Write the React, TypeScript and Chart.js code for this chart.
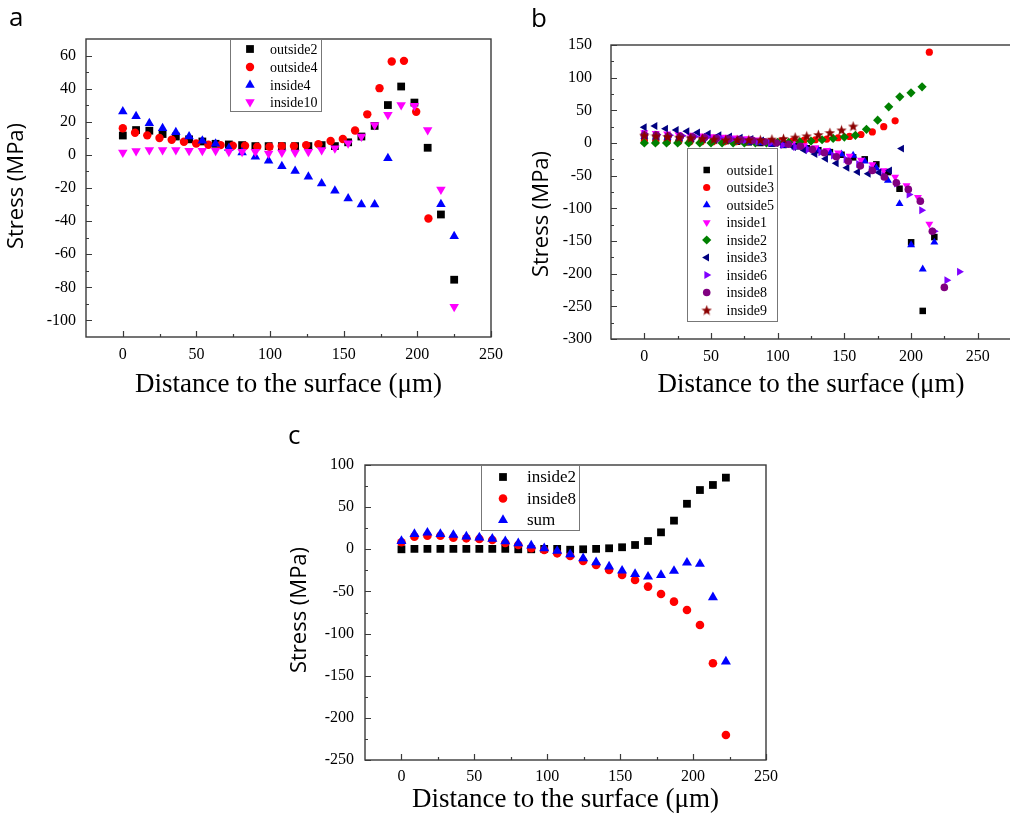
import React, { useEffect, useRef } from "react";
import { Chart, registerables } from "chart.js";
import { drawPoint } from "chart.js/helpers";

Chart.register(...registerables);

// ---------------- Panel a data ----------------
const xA9 = [0, 9, 18, 27, 36, 45, 54, 63, 72, 81, 90, 99, 108, 117, 126, 135, 144, 153, 162, 171, 180, 189, 198, 207, 216, 225];
const xA83 = [0, 8.3, 16.6, 24.9, 33.2, 41.5, 49.8, 58.1, 66.4, 74.7, 83, 91.3, 99.6, 107.9, 116.2, 124.5, 132.8, 141.1, 149.4, 157.7, 166, 174.3, 182.6, 190.9, 199.2, 207.5];
const outside2A = [11.7, 15.0, 14.6, 12.6, 11.1, 9.4, 8.1, 6.7, 6.3, 5.9, 5.3, 5.3, 5.3, 5.3, 5.3, 5.9, 5.3, 7.6, 11.1, 17.5, 30.1, 41.3, 31.6, 4.3, -36.0, -75.4];
const outside4A = [16.1, 13.4, 11.8, 10.2, 9.1, 7.9, 6.9, 6.1, 5.9, 5.5, 5.5, 4.9, 4.9, 5.3, 5.3, 5.9, 6.5, 8.4, 9.6, 14.7, 24.5, 40.3, 56.4, 56.8, 26.1, -38.4];
const inside4A = [26.2, 23.3, 19.1, 16.1, 13.7, 11.1, 8.5, 6.8, 4.0, 1.5, -1.1, -3.6, -6.8, -9.8, -13.2, -17.3, -21.7, -26.3, -30.0, -30.0, -2.1, null, null, null, -29.8, -49.2];
const inside10A = [1.5, 2.3, 2.9, 2.9, 2.9, 2.5, 2.5, 2.5, 1.9, 1.9, 1.9, 0.9, 1.5, 1.5, 1.9, 2.9, 4.0, 7.1, 11.1, 18.1, 24.2, 30.2, 29.7, 15.1, -20.9, -91.8];
const xTicksA = [0, 50, 100, 150, 200, 250];
const xMinorA = [25, 75, 125, 175, 225];
const yTicksA = [-100, -80, -60, -40, -20, 0, 20, 40, 60];
const yMinorA = [-90, -70, -50, -30, -10, 10, 30, 50];

// ---------------- Panel b data ----------------
const xB87 = [0, 8.7, 17.4, 26.1, 34.8, 43.5, 52.2, 60.9, 69.6, 78.3, 87, 95.7, 104.4, 113.1, 121.8, 130.5, 139.2, 147.9, 156.6, 165.3, 174, 182.7, 191.4, 200.1, 208.8, 217.5];
const xB855 = [0, 8.55, 17.1, 25.65, 34.2, 42.75, 51.3, 59.85, 68.4, 76.95, 85.5, 94.05, 102.6, 111.15, 119.7, 128.25, 136.8, 145.35, 153.9, 162.45, 171, 179.55, 188.1, 196.65, 205.2, 213.75];
const xB833 = [0, 8.33, 16.66, 25, 33.3, 41.6, 50, 58.3, 66.6, 75, 83.3, 91.6, 100, 108.3, 116.6, 125, 133.3, 141.6, 150, 158.3, 166.6, 175, 183.3, 191.6, 200, 208.3];
const xB8 = [0, 8, 16, 24, 32, 40, 48, 56, 64, 72, 80, 88, 96, 104, 112, 120, 128, 136, 144, 152, 160, 168, 176, 184, 193];
const xB945 = [0, 9.45, 18.9, 28.35, 37.8, 47.25, 56.7, 66.15, 75.6, 85.05, 94.5, 103.95, 113.4, 122.85, 132.3, 141.75, 151.2, 160.65, 170.1, 179.55, 189, 198.45, 207.9, 217.35, 226.8, 236.25];
const xB9 = [0, 9, 18, 27, 36, 45, 54, 63, 72, 81, 90, 99, 108, 117, 126, 135, 144, 153, 162, 171, 180, 189, 198, 207, 216, 225];
const xBstar = [0, 8.7, 17.4, 26.1, 34.8, 43.5, 52.2, 60.9, 69.6, 78.3, 87, 95.7, 104.4, 113.1, 121.8, 130.5, 139.2, 147.9, 156.6];
const outside1B = [8, 8, 7, 6, 6, 5, 4, 3, 2, 1, 0, -1, -3, -5, -8, -11, -14, -18, -22, -25, -32.7, -44.5, -70, -152, -257, -144];
const outside3B = [2, 2, 2, 2, 2, 2, 2, 2, 2, 2, 2, 2, 3, 3, 4, 5, 6, 8, 10, 13, 17, 25, 34, null, null, 139];
const outside5B = [10, 9, 8, 7, 6, 5, 4, 3, 2, 1, 0, -2, -4, -6, -8, -11, -14, -17, -19, -28, -38.4, -57.3, -93, -156, -193, -152];
const inside1B = [16, 15, 14, 13, 12, 11, 10, 9, 8, 7, 5, 3, 1, -1, -4, -7, -11, -15, -20, -26, -33, -42, -52, -65, -83, -124];
const inside2B = [0, 0, 0, 0, 0, 0, 0, 0, 0, 0, 0, 0, 1, 1, 2, 3, 5, 7, 9, 11.8, 21, 35, 55.3, 70.7, 76.8, 86];
const inside3B = [24, 26, 22, 20, 18, 16, 14, 12, 10, 8, 6, 4, 1, -2, -6, -11, -17, -24, -31, -38, -44.5, -47, -45, -42, -8.6];
const inside6B = [14, 13, 12, 11, 10, 9, 8, 6, 4, 2, 0, -3, -6, -10, -14, -19, -25, -32, -40, -50, -62, -79, -103, -135, -210, -197];
const inside8B = [12, 12, 11, 10, 9, 8, 7, 6, 5, 4, 2, 0, -2, -5, -10, -15, -21, -28, -35, -42, -52, -61, -71, -89, -135, -221];
const inside9B = [12, 11, 10, 9, 8, 7, 6, 5, 5, 5, 5, 6, 7, 9, 11, 13, 16, 20, 26];
const xTicksB = [0, 50, 100, 150, 200, 250];
const xMinorB = [25, 75, 125, 175, 225];
const yTicksB = [-300, -250, -200, -150, -100, -50, 0, 50, 100, 150];
const yMinorB = [-275, -225, -175, -125, -75, -25, 25, 75, 125];

// ---------------- Panel c data ----------------
const xC = [0, 8.9, 17.8, 26.7, 35.6, 44.5, 53.4, 62.3, 71.2, 80.1, 89, 97.9, 106.8, 115.7, 124.6, 133.5, 142.4, 151.3, 160.2, 169.1, 178, 186.9, 195.8, 204.7, 213.6, 222.5];
const inside2C = [0, 0.5, 0.5, 0.5, 0.5, 0.5, 0.5, 0.5, 0.5, 0, 0, 0.5, 0.5, -0.5, 0, 0.5, 1.2, 2.4, 5.1, 9.8, 20.1, 34, 54, 70.3, 76.3, 85];
const inside8C = [8.3, 15, 16.2, 16, 13.8, 13, 12.3, 11, 7.5, 5.1, 1.2, -0.8, -4.8, -7.9, -13.9, -18.6, -24.6, -30.5, -36.4, -44.3, -53, -62.1, -72, -89.8, -135.3, -220.3];
const sumC = [9.8, 18.1, 19.7, 18.1, 17, 15, 13.8, 12.3, 9.5, 7.1, 4.3, 1.2, -2, -6, -10.7, -15.5, -20.6, -25.4, -29.3, -32.5, -30.5, -25.7, -15.9, -17.4, -57, -133.3];
const xTicksC = [0, 50, 100, 150, 200, 250];
const xMinorC = [25, 75, 125, 175, 225];
const yTicksC = [-250, -200, -150, -100, -50, 0, 50, 100];
const yMinorC = [-225, -175, -125, -75, -25, 25, 75];

const SERIF = "'Liberation Serif', 'Times New Roman', serif";
const SANS = "'Open Sans', 'Noto Sans', sans-serif";

let starCache: HTMLCanvasElement | null = null;
function starImage(): HTMLCanvasElement {
  if (starCache) return starCache;
  const size = 11;
  const c = document.createElement("canvas");
  c.width = size;
  c.height = size;
  const ctx = c.getContext("2d")!;
  ctx.fillStyle = "#8b0000";
  ctx.beginPath();
  for (let i = 0; i < 10; i++) {
    const r = i % 2 === 0 ? size / 2 : (size / 2) * 0.42;
    const a = -Math.PI / 2 + (i * Math.PI) / 5;
    ctx.lineTo(size / 2 + r * Math.cos(a), size / 2 + 0.6 + r * Math.sin(a));
  }
  ctx.closePath();
  ctx.fill();
  starCache = c;
  return c;
}

type Series = { label: string; x: number[]; y: (number | null)[]; style: any; color: string; r: number; rot?: number };

type PanelCfg = {
  left: number; top: number; w: number; h: number;
  pad: { left: number; right: number; top: number; bottom: number };
  yW: number; xH: number;
  xMin: number; xMax: number; yMin: number; yMax: number;
  xTicks: number[]; xMinor: number[]; yTicks: number[]; yMinor: number[];
  xPad: number; yPad: number;
  series: Series[];
  legend: { box: number[]; rowY: number[]; markerX: number; textX: number; size: number };
  yTitle: { x: number; y: number };
};

const framePlugin = {
  id: "frame",
  afterDatasetsDraw(chart: any, _a: any, opts: any) {
    const { ctx, chartArea: a } = chart;
    const xs = chart.scales.x;
    const ys = chart.scales.y;
    ctx.save();
    ctx.strokeStyle = "#3a3a3a";
    ctx.lineWidth = 1.4;
    ctx.strokeRect(a.left, a.top, a.right - a.left, a.bottom - a.top);
    ctx.lineWidth = 1.2;
    ctx.beginPath();
    for (const v of opts.xMajor) {
      const p = Math.round(xs.getPixelForValue(v)) + 0.5;
      ctx.moveTo(p, a.bottom);
      ctx.lineTo(p, a.bottom - 6);
    }
    for (const v of opts.xMinor) {
      const p = Math.round(xs.getPixelForValue(v)) + 0.5;
      ctx.moveTo(p, a.bottom);
      ctx.lineTo(p, a.bottom - 3);
    }
    for (const v of opts.yMajor) {
      const p = Math.round(ys.getPixelForValue(v)) + 0.5;
      ctx.moveTo(a.left, p);
      ctx.lineTo(a.left + 6, p);
    }
    for (const v of opts.yMinor) {
      const p = Math.round(ys.getPixelForValue(v)) + 0.5;
      ctx.moveTo(a.left, p);
      ctx.lineTo(a.left + 3, p);
    }
    ctx.stroke();
    ctx.restore();
  },
};

const legendPlugin = {
  id: "boxLegend",
  afterDraw(chart: any, _a: any, opts: any) {
    const ctx = chart.ctx;
    const [bx, by, bw, bh] = opts.box;
    ctx.save();
    ctx.fillStyle = "#ffffff";
    ctx.fillRect(bx, by, bw, bh);
    ctx.strokeStyle = "#777777";
    ctx.lineWidth = 1;
    ctx.strokeRect(bx + 0.5, by + 0.5, bw, bh);
    chart.data.datasets.forEach((ds: any, i: number) => {
      const y = opts.rowY[i];
      ctx.fillStyle = ds.backgroundColor;
      ctx.strokeStyle = ds.backgroundColor;
      drawPoint(ctx, { pointStyle: ds.pointStyle, rotation: ds.pointRotation || 0, radius: ds.pointRadius, borderWidth: 0 } as any, opts.markerX, y);
      ctx.fillStyle = "#000";
      ctx.font = `${opts.size}px ${SERIF}`;
      ctx.textBaseline = "middle";
      ctx.textAlign = "left";
      ctx.fillText(ds.label, opts.textX, y + 1);
    });
    ctx.restore();
  },
};

const yTitlePlugin = {
  id: "yTitle",
  afterDraw(chart: any, _a: any, opts: any) {
    const ctx = chart.ctx;
    ctx.save();
    ctx.translate(opts.x, opts.y);
    ctx.rotate(-Math.PI / 2);
    ctx.fillStyle = "#000";
    ctx.font = `22px ${SANS}`;
    ctx.textAlign = "center";
    ctx.textBaseline = "middle";
    ctx.fillText("Stress (MPa)", 0, 0);
    ctx.restore();
  },
};

function buildConfig(cfg: PanelCfg): any {
  const n = cfg.series.length;
  return {
    type: "scatter",
    data: {
      datasets: cfg.series.map((s, i) => ({
        label: s.label,
        data: s.x.map((x, j) => ({ x, y: s.y[j] })).filter((p) => p.y !== null && p.y !== undefined),
        pointStyle: s.style,
        pointRotation: s.rot || 0,
        pointRadius: s.r,
        pointHoverRadius: s.r,
        backgroundColor: s.color,
        borderColor: s.color,
        pointBorderWidth: 0,
        borderWidth: 0,
        showLine: false,
        order: n - i,
      })),
    },
    options: {
      responsive: false,
      animation: false,
      events: [],
      layout: { padding: cfg.pad },
      plugins: {
        legend: { display: false },
        tooltip: { enabled: false },
        frame: { xMajor: cfg.xTicks, xMinor: cfg.xMinor, yMajor: cfg.yTicks, yMinor: cfg.yMinor },
        boxLegend: cfg.legend,
        yTitle: cfg.yTitle,
      },
      scales: {
        x: {
          type: "linear",
          min: cfg.xMin,
          max: cfg.xMax,
          grid: { display: false, drawTicks: false },
          border: { display: false },
          afterBuildTicks: (s: any) => {
            s.ticks = cfg.xTicks.map((v) => ({ value: v }));
          },
          afterFit: (s: any) => {
            s.height = cfg.xH;
            s.paddingLeft = 0;
            s.paddingRight = 0;
          },
          ticks: { autoSkip: false, maxRotation: 0, minRotation: 0, padding: cfg.xPad, color: "#000", font: { family: SERIF, size: 16 } },
          title: {
            display: true,
            text: "Distance to the surface (μm)",
            color: "#000",
            font: { family: SERIF, size: 27 },
            padding: { top: 0, bottom: 0 },
          },
        },
        y: {
          type: "linear",
          min: cfg.yMin,
          max: cfg.yMax,
          grid: { display: false, drawTicks: false },
          border: { display: false },
          afterBuildTicks: (s: any) => {
            s.ticks = cfg.yTicks.map((v) => ({ value: v }));
          },
          afterFit: (s: any) => {
            s.width = cfg.yW;
            s.paddingTop = 0;
            s.paddingBottom = 0;
          },
          ticks: { autoSkip: false, padding: cfg.yPad, color: "#000", font: { family: SERIF, size: 16 } },
        },
      },
    },
    plugins: [framePlugin, legendPlugin, yTitlePlugin],
  };
}

function Panel({ cfg }: { cfg: PanelCfg }) {
  const ref = useRef<HTMLCanvasElement | null>(null);
  useEffect(() => {
    const chart = new Chart(ref.current as HTMLCanvasElement, buildConfig(cfg));
    return () => chart.destroy();
  }, [cfg]);
  return (
    <canvas
      ref={ref}
      width={cfg.w}
      height={cfg.h}
      style={{ position: "absolute", left: cfg.left, top: cfg.top, width: cfg.w, height: cfg.h }}
    />
  );
}

const panelA: PanelCfg = {
  left: 0, top: 0, w: 515, h: 401,
  pad: { left: 4, right: 24, top: 39, bottom: 0 },
  yW: 82, xH: 64,
  xMin: -25, xMax: 250, yMin: -110, yMax: 70,
  xTicks: xTicksA, xMinor: xMinorA, yTicks: yTicksA, yMinor: yMinorA,
  xPad: 8, yPad: 10,
  series: [
    { label: "outside2", x: xA9, y: outside2A, style: "rect", color: "#000000", r: 5.5 },
    { label: "outside4", x: xA83, y: outside4A, style: "circle", color: "#ff0000", r: 4.2 },
    { label: "inside4", x: xA9, y: inside4A, style: "triangle", color: "#0000ff", r: 5.5 },
    { label: "inside10", x: xA9, y: inside10A, style: "triangle", color: "#ff00ff", r: 5.5, rot: 180 },
  ],
  legend: { box: [230, 39, 91, 72], rowY: [49, 67, 85, 102], markerX: 250, textX: 270, size: 14 },
  yTitle: { x: 17, y: 186 },
};

const panelB: PanelCfg = {
  left: 520, top: 0, w: 500, h: 401,
  pad: { left: 0, right: 9, top: 45, bottom: 0 },
  yW: 91, xH: 62,
  xMin: -25, xMax: 275, yMin: -300, yMax: 150,
  xTicks: xTicksB, xMinor: xMinorB, yTicks: yTicksB, yMinor: yMinorB,
  xPad: 8, yPad: 19,
  series: [
    { label: "outside1", x: xB87, y: outside1B, style: "rect", color: "#000000", r: 4.6 },
    { label: "outside3", x: xB855, y: outside3B, style: "circle", color: "#ff0000", r: 3.6 },
    { label: "outside5", x: xB87, y: outside5B, style: "triangle", color: "#0000ff", r: 4.6 },
    { label: "inside1", x: xB855, y: inside1B, style: "triangle", color: "#ff00ff", r: 4.6, rot: 180 },
    { label: "inside2", x: xB833, y: inside2B, style: "rectRot", color: "#008000", r: 4.6 },
    { label: "inside3", x: xB8, y: inside3B, style: "triangle", color: "#000080", r: 4.6, rot: 270 },
    { label: "inside6", x: xB945, y: inside6B, style: "triangle", color: "#8000ff", r: 4.6, rot: 90 },
    { label: "inside8", x: xB9, y: inside8B, style: "circle", color: "#800080", r: 3.8 },
    { label: "inside9", x: xBstar, y: inside9B, style: null, color: "#8b0000", r: 5 },
  ],
  legend: { box: [167, 148, 90, 173], rowY: [170, 187.5, 205, 222.5, 240, 257.5, 275, 292.5, 310], markerX: 186.7, textX: 206.5, size: 14 },
  yTitle: { x: 22, y: 214 },
};

const panelC: PanelCfg = {
  left: 280, top: 420, w: 500, h: 398,
  pad: { left: 9, right: 14, top: 45, bottom: 2 },
  yW: 76, xH: 56,
  xMin: -25, xMax: 250, yMin: -250, yMax: 100,
  xTicks: xTicksC, xMinor: xMinorC, yTicks: yTicksC, yMinor: yMinorC,
  xPad: 7, yPad: 11,
  series: [
    { label: "inside2", x: xC, y: inside2C, style: "rect", color: "#000000", r: 5.5 },
    { label: "inside8", x: xC, y: inside8C, style: "circle", color: "#ff0000", r: 4.3 },
    { label: "sum", x: xC, y: sumC, style: "triangle", color: "#0000ff", r: 5.8 },
  ],
  legend: { box: [201, 45, 98, 65], rowY: [57, 78.5, 100], markerX: 223, textX: 247, size: 17 },
  yTitle: { x: 20, y: 190 },
};

export default function App() {
  const cfgB = React.useMemo(() => {
    return { ...panelB, series: panelB.series.map((s) => (s.label === "inside9" ? { ...s, style: starImage() } : s)) };
  }, []);
  const letter = (t: string, left: number, top: number) => (
    <div style={{ position: "absolute", left, top, fontFamily: SANS, fontSize: 26, lineHeight: "26px", color: "#000" }}>{t}</div>
  );
  return (
    <div style={{ position: "absolute", left: 0, top: 0, width: 1010, height: 818, overflow: "hidden", background: "#fff" }}>
      <Panel cfg={panelA} />
      <Panel cfg={cfgB} />
      <Panel cfg={panelC} />
      {letter("a", 9, 3)}
      {letter("b", 531, 4)}
      {letter("c", 288, 421)}
    </div>
  );
}
